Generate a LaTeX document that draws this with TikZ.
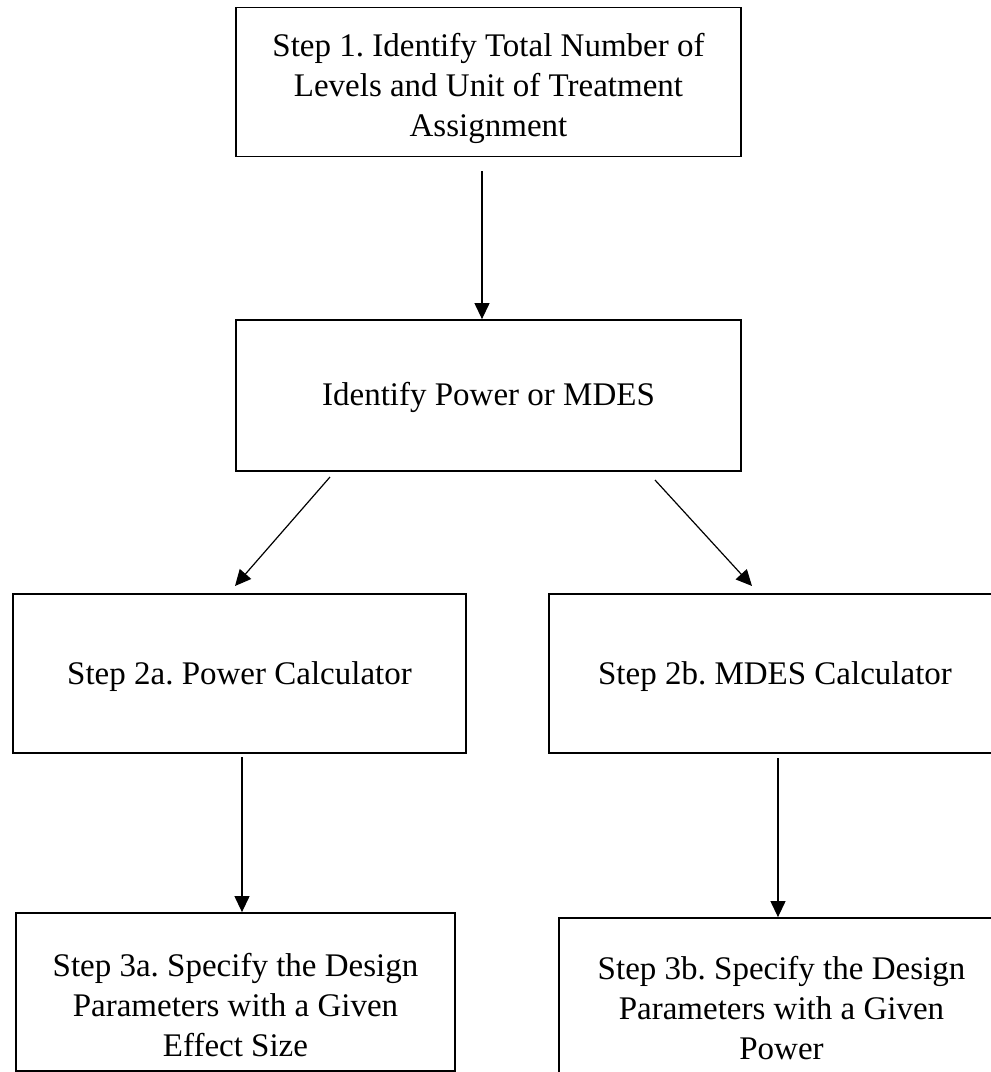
\documentclass[tikz,border=0pt]{standalone}
\usepackage{fontspec}
\setmainfont{Liberation Serif}
\usetikzlibrary{arrows.meta}
\begin{document}
\frenchspacing
\begin{tikzpicture}[x=1pt,y=-1pt,
  stepbox/.style={draw, line width=1.8pt, inner sep=0pt},
  steptext/.style={align=center, inner sep=0pt,
    font=\fontsize{33}{40}\selectfont},
  arr/.style={line width=1.2pt, -{Triangle[width=15pt,length=16pt]}}]
\useasboundingbox (0,0) rectangle (991,1072);
\clip (0,0) rectangle (991,1072);
\node[stepbox, minimum width=505pt, minimum height=149pt] (s1) at (488.5,82) {};
\node[stepbox, minimum width=505pt, minimum height=151pt] (s2) at (488.5,395.5) {};
\node[stepbox, minimum width=453pt, minimum height=159pt] (s2a) at (239.5,673.5) {};
\node[stepbox, minimum width=452pt, minimum height=159pt] (s2b) at (775,673.5) {};
\node[stepbox, minimum width=439pt, minimum height=158pt] (s3a) at (235.5,992) {};
\node[stepbox, minimum width=445pt, minimum height=160pt] (s3b) at (781.5,998) {};
\node[steptext, yshift=-6pt] (t1) at (s1.center)
  {Step 1. Identify Total Number of\\Levels and Unit of Treatment\\Assignment};
\node[steptext, yshift=-2pt] (t2) at (s2.center) {Identify Power or MDES};
\node[steptext, yshift=-3pt] (t2a) at (s2a.center) {Step 2a. Power Calculator};
\node[steptext, yshift=-3pt] (t2b) at (s2b.center) {Step 2b. MDES Calculator};
\node[steptext, yshift=-13pt] (t3a) at (s3a.center)
  {Step 3a. Specify the Design\\Parameters with a Given\\Effect Size};
\node[steptext, yshift=-10pt] (t3b) at (s3b.center)
  {Step 3b. Specify the Design\\Parameters with a Given\\Power};
\coordinate (p1) at (482,171);
\coordinate (p2) at (330,477);
\coordinate (q2) at (235,586);
\coordinate (p3) at (655,480);
\coordinate (q3) at (752,586);
\coordinate (p4) at (242,757);
\coordinate (p5) at (778,758);
\draw[arr] (p1) -- (p1 |- s2.north);
\draw[arr] (p2) -- (q2);
\draw[arr] (p3) -- (q3);
\draw[arr] (p4) -- (p4 |- s3a.north);
\draw[arr] (p5) -- (p5 |- s3b.north);
\end{tikzpicture}
\end{document}
